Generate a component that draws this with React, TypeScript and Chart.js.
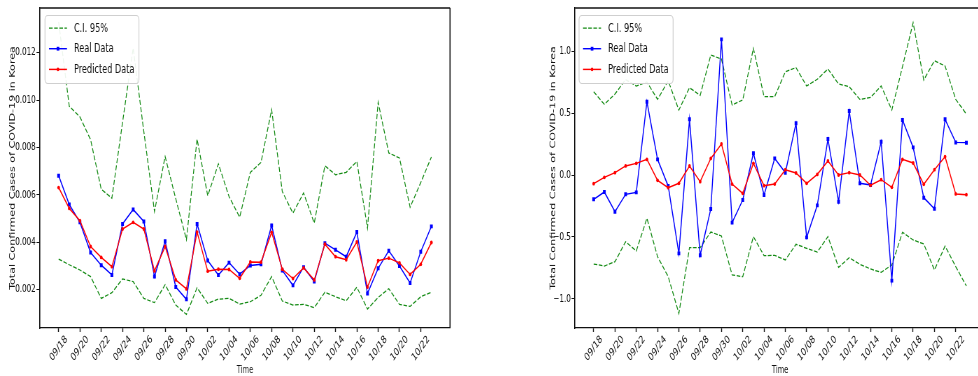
import React, { useEffect, useRef } from 'react';
import { Chart, registerables } from 'chart.js';

Chart.register(...registerables);

// ---------- data ----------
const dates = [
  '09/18', '09/19', '09/20', '09/21', '09/22', '09/23', '09/24', '09/25', '09/26', '09/27',
  '09/28', '09/29', '09/30', '10/01', '10/02', '10/03', '10/04', '10/05', '10/06', '10/07',
  '10/08', '10/09', '10/10', '10/11', '10/12', '10/13', '10/14', '10/15', '10/16', '10/17',
  '10/18', '10/19', '10/20', '10/21', '10/22', '10/23',
];

const xTickLabels = [
  '09/18', '09/20', '09/22', '09/24', '09/26', '09/28', '09/30', '10/02', '10/04',
  '10/06', '10/08', '10/10', '10/12', '10/14', '10/16', '10/18', '10/20', '10/22',
];

const leftYTicks = [0.002, 0.004, 0.006, 0.008, 0.010, 0.012];
const rightYTicks = [-1.0, -0.5, 0.0, 0.5, 1.0];

const leftReal = [
  0.00681, 0.00559, 0.00484, 0.00357, 0.00303, 0.00262, 0.00477, 0.00538, 0.00488, 0.00255,
  0.00404, 0.00211, 0.00159, 0.00477, 0.00323, 0.00262, 0.00314, 0.00265, 0.00302, 0.00307,
  0.00471, 0.00281, 0.00218, 0.00295, 0.00234, 0.00396, 0.00368, 0.00339, 0.00443, 0.00184,
  0.00290, 0.00364, 0.00300, 0.00228, 0.00360, 0.00467,
];
const leftPred = [
  0.00631, 0.00543, 0.00491, 0.00382, 0.00336, 0.00297, 0.00456, 0.00484, 0.00456, 0.00279,
  0.00382, 0.00241, 0.00203, 0.00443, 0.00278, 0.00286, 0.00285, 0.00248, 0.00317, 0.00316,
  0.00442, 0.00286, 0.00247, 0.00292, 0.00241, 0.00392, 0.00339, 0.00326, 0.00401, 0.00211,
  0.00322, 0.00333, 0.00313, 0.00264, 0.00307, 0.00399,
];
const leftUpper = [
  0.0133, 0.00974, 0.00929, 0.00833, 0.00624, 0.00586, 0.00906, 0.0122, 0.00867, 0.00530,
  0.00762, 0.00583, 0.00411, 0.00836, 0.00596, 0.00731, 0.00593, 0.00506, 0.00695, 0.00737,
  0.00960, 0.00614, 0.00523, 0.00608, 0.00481, 0.00723, 0.00685, 0.00695, 0.00741, 0.00460,
  0.00991, 0.00777, 0.00756, 0.00548, 0.00652, 0.00760,
];
const leftLower = [
  0.00329, 0.00305, 0.00283, 0.00255, 0.00163, 0.00187, 0.00245, 0.00234, 0.00163, 0.00145,
  0.00221, 0.00135, 0.00095, 0.00208, 0.00142, 0.00160, 0.00163, 0.00139, 0.00149, 0.00176,
  0.00255, 0.00152, 0.00135, 0.00138, 0.00124, 0.00189, 0.00170, 0.00153, 0.00210, 0.00118,
  0.00167, 0.00204, 0.00138, 0.00129, 0.00170, 0.00189,
];

const rightReal = [
  -0.196, -0.137, -0.296, -0.156, -0.140, 0.591, 0.126, -0.089, -0.632, 0.449,
  -0.648, -0.274, 1.094, -0.384, -0.202, 0.175, -0.161, 0.134, 0.019, 0.417,
  -0.503, -0.245, 0.290, -0.215, 0.516, -0.067, -0.081, 0.269, -0.852, 0.444,
  0.223, -0.183, -0.272, 0.449, 0.263, 0.261,
];
const rightPred = [
  -0.070, -0.019, 0.019, 0.073, 0.094, 0.126, -0.043, -0.102, -0.067, 0.073,
  -0.054, 0.134, 0.250, -0.073, -0.148, 0.094, -0.086, -0.073, 0.043, 0.016,
  -0.067, 0.005, 0.113, 0.000, 0.019, 0.000, -0.083, -0.038, -0.099, 0.126,
  0.097, -0.075, 0.043, 0.148, -0.153, -0.159,
];
const rightUpper = [
  0.672, 0.570, 0.653, 0.770, 0.718, 0.750, 0.610, 0.760, 0.524, 0.704,
  0.642, 0.968, 0.935, 0.565, 0.605, 1.022, 0.632, 0.632, 0.833, 0.866,
  0.718, 0.772, 0.855, 0.734, 0.712, 0.610, 0.626, 0.718, 0.524, 0.874,
  1.228, 0.766, 0.922, 0.879, 0.610, 0.492,
];
const rightLower = [
  -0.718, -0.734, -0.699, -0.538, -0.613, -0.349, -0.659, -0.820, -1.116, -0.586,
  -0.586, -0.460, -0.492, -0.806, -0.820, -0.497, -0.651, -0.648, -0.685, -0.559,
  -0.591, -0.621, -0.497, -0.745, -0.667, -0.720, -0.758, -0.785, -0.726, -0.462,
  -0.524, -0.556, -0.766, -0.573, -0.739, -0.895,
];

// ---------- styling ----------
// The reference figure is horizontally squeezed; draw on a wider bitmap and
// display it narrower (SQ = display / bitmap).
const SQ = 0.7;
const FONT = '"DejaVu Sans", sans-serif';
const GREEN = '#138a13';
const BLUE = '#0000ff';
const RED = '#ff0000';
const DARK = '#111111';
const DASH = [5.2, 2.2];

const framePlugin = {
  id: 'frame',
  afterDatasetsDraw(chart: any, _args: any, opts: any) {
    const { ctx, chartArea: a } = chart;
    ctx.save();
    ctx.strokeStyle = DARK;
    ctx.lineWidth = 1.3;
    ctx.beginPath();
    ctx.moveTo(a.left, a.top);
    ctx.lineTo(opts.right ? a.right : chart.width, a.top);
    ctx.stroke();
    if (opts.right) {
      ctx.lineWidth = 1.6;
      ctx.beginPath();
      ctx.moveTo(a.right, a.top);
      ctx.lineTo(a.right, a.bottom);
      ctx.stroke();
    }
    // legend box
    const k = 1 / SQ;
    const bx = a.left + opts.legendDx * k;
    const by = a.top + 7;
    const bw = 94 * k;
    const bh = 68;
    ctx.fillStyle = 'rgba(255,255,255,0.92)';
    ctx.strokeStyle = '#cfcfcf';
    ctx.lineWidth = 1.2;
    ctx.beginPath();
    ctx.roundRect(bx, by + 0.5, bw, bh, 4);
    ctx.fill();
    ctx.stroke();
    const items = chart.data.datasets.filter((d: any) => d.showInLegend);
    items.forEach((d: any, i: number) => {
      const y = by + 13 + i * 20.7;
      const x0 = bx + 4 * k;
      const x1 = bx + 22 * k;
      ctx.strokeStyle = d.borderColor;
      ctx.lineWidth = d.borderWidth;
      ctx.setLineDash(d.borderDash || []);
      ctx.beginPath();
      ctx.moveTo(x0, y);
      ctx.lineTo(x1, y);
      ctx.stroke();
      ctx.setLineDash([]);
      if (d.pointRadius > 0) {
        ctx.fillStyle = d.borderColor;
        const cx = (x0 + x1) / 2;
        if (d.pointStyle === 'rect') {
          ctx.fillRect(cx - 1.9, y - 1.9, 3.8, 3.8);
        } else {
          ctx.beginPath();
          ctx.arc(cx, y, 1.8, 0, Math.PI * 2);
          ctx.fill();
        }
      }
      ctx.fillStyle = DARK;
      ctx.font = '11.7px ' + FONT;
      ctx.textBaseline = 'middle';
      ctx.textAlign = 'left';
      ctx.fillText(d.label, bx + 29 * k, y + 0.5);
    });
    ctx.restore();
  },
};

function toPoints(values: number[]) {
  return values.map((v, i) => ({ x: i, y: v }));
}

function buildConfig(p: {
  real: number[];
  pred: number[];
  upper: number[];
  lower: number[];
  yMin: number;
  yMax: number;
  yTicks: number[];
  yFormat: (v: number) => string;
  yWidth: number;
  padRight: number;
  yTitleX: number;
  legendDx: number;
  rightSpine: boolean;
}) {
  const n = dates.length - 1;
  const k = 1 / SQ;
  const ciStyle = {
    borderColor: GREEN,
    borderWidth: 1.25,
    borderDash: DASH,
    pointRadius: 0,
    pointHoverRadius: 0,
    fill: false,
    tension: 0,
  };
  const titleSize = 11.1;
  return {
    type: 'line',
    data: {
      datasets: [
        { label: 'C.I. 95%', data: toPoints(p.upper), ...ciStyle, order: 4, showInLegend: true },
        { label: 'C.I. 95%', data: toPoints(p.lower), ...ciStyle, order: 3, showInLegend: false },
        {
          label: 'Real Data',
          data: toPoints(p.real),
          borderColor: BLUE,
          backgroundColor: BLUE,
          borderWidth: 1.45,
          pointStyle: 'rect',
          pointRadius: 2.8,
          pointBorderWidth: 0,
          order: 2,
          showInLegend: true,
        },
        {
          label: 'Predicted Data',
          data: toPoints(p.pred),
          borderColor: RED,
          backgroundColor: RED,
          borderWidth: 1.45,
          pointStyle: 'circle',
          pointRadius: 1.9,
          pointBorderWidth: 0,
          order: 1,
          showInLegend: true,
        },
      ],
    },
    options: {
      animation: false,
      responsive: false,
      devicePixelRatio: 1,
      events: [],
      layout: { padding: { left: 0, top: 8, right: p.padRight * k, bottom: 0 } },
      plugins: {
        legend: { display: false },
        tooltip: { enabled: false },
        frame: { right: p.rightSpine, legendDx: p.legendDx },
      },
      scales: {
        x: {
          type: 'linear',
          min: -0.05 * n,
          max: n * 1.05,
          grid: { drawOnChartArea: false, drawTicks: true, tickLength: 4, color: DARK, tickWidth: 1.4 },
          border: { color: DARK, width: 1.2 },
          ticks: {
            autoSkip: false,
            minRotation: 45,
            maxRotation: 45,
            labelOffset: 11,
            padding: 1,
            color: DARK,
            font: { family: FONT, size: 10.8 },
            callback: (v: number) => dates[v] ?? '',
          },
          afterBuildTicks: (scale: any) => {
            scale.ticks = xTickLabels.map((l) => ({ value: dates.indexOf(l) }));
          },
          afterFit: (scale: any) => {
            scale.height = 48;
            scale.paddingLeft = 0;
            scale.paddingRight = 0;
          },
          title: {
            display: true,
            text: 'Time',
            color: DARK,
            font: { family: FONT, size: 9.6 },
            padding: { top: 0, bottom: -0.5 },
          },
        },
        y: {
          type: 'linear',
          min: p.yMin,
          max: p.yMax,
          grid: { drawOnChartArea: false, drawTicks: true, tickLength: 5, color: DARK, tickWidth: 1 },
          border: { color: DARK, width: 1.6 },
          ticks: {
            padding: 1,
            color: DARK,
            font: { family: FONT, size: 10.3 },
            callback: (v: number) => p.yFormat(v),
          },
          afterBuildTicks: (scale: any) => {
            scale.ticks = p.yTicks.map((v) => ({ value: v }));
          },
          afterFit: (scale: any) => {
            scale.width = p.yWidth * k;
            scale.paddingTop = 0;
            scale.paddingBottom = 0;
          },
          title: {
            display: true,
            text: 'Total Confirmed Cases of COVID-19 in Korea',
            color: DARK,
            font: { family: FONT, size: titleSize },
            padding: { top: p.yTitleX * k - (titleSize * 1.2) / 2, bottom: 0 },
          },
        },
      },
    },
    plugins: [framePlugin],
  } as any;
}

function ChartCanvas(props: { config: any; left: number; width: number; height: number }) {
  const ref = useRef<HTMLCanvasElement | null>(null);
  useEffect(() => {
    if (!ref.current) return;
    const chart = new Chart(ref.current, props.config);
    return () => chart.destroy();
  }, []);
  const bitmapW = Math.round(props.width / SQ);
  return (
    <canvas
      ref={ref}
      width={bitmapW}
      height={props.height}
      style={{ position: 'absolute', left: props.left, top: 0, width: props.width, height: props.height }}
    />
  );
}

const minus = (s: string) => s.replace('-', '\u2212');

export default function App() {
  const leftConfig = buildConfig({
    real: leftReal,
    pred: leftPred,
    upper: leftUpper,
    lower: leftLower,
    yMin: 0.00038,
    yMax: 0.01389,
    yTicks: leftYTicks,
    yFormat: (v) => v.toFixed(3),
    yWidth: 40,
    padRight: 39,
    yTitleX: 12.5,
    legendDx: 5,
    rightSpine: true,
  });
  const rightConfig = buildConfig({
    real: rightReal,
    pred: rightPred,
    upper: rightUpper,
    lower: rightLower,
    yMin: -1.234,
    yMax: 1.347,
    yTicks: rightYTicks,
    yFormat: (v) => minus(v.toFixed(1)),
    yWidth: 45,
    padRight: 15,
    yTitleX: 23.5,
    legendDx: 4,
    rightSpine: false,
  });
  return (
    <div
      style={{
        position: 'fixed',
        left: 0,
        top: 0,
        width: 978,
        height: 376,
        overflow: 'hidden',
        background: '#ffffff',
      }}
    >
      <ChartCanvas config={leftConfig} left={0} width={489} height={376} />
      <ChartCanvas config={rightConfig} left={530} width={470} height={376} />
    </div>
  );
}
